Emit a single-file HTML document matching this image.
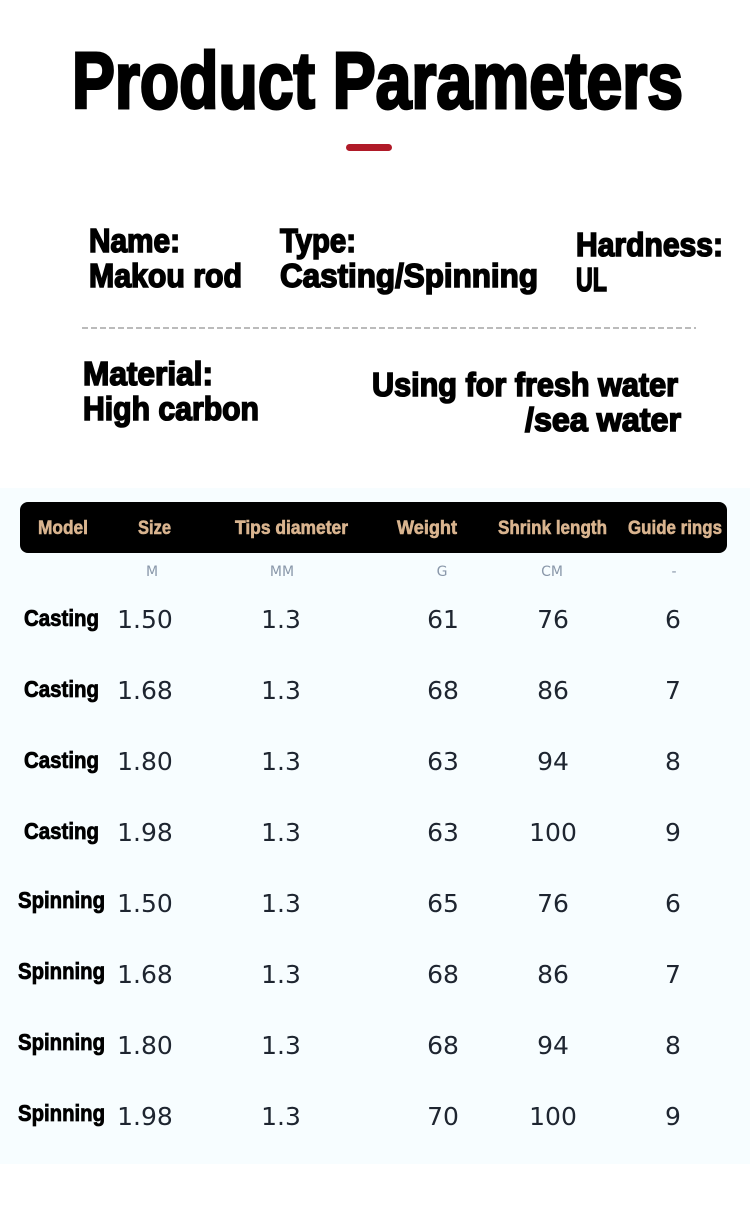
<!DOCTYPE html>
<html><head><meta charset="utf-8"><style>
html,body{margin:0;padding:0;background:#fff;width:750px;height:1222px;overflow:hidden}
svg{display:block}
.b{font-family:"Liberation Sans",sans-serif;font-weight:bold;fill:#000;stroke:#000;stroke-width:1.6px}
.h{font-family:"Liberation Sans",sans-serif;font-weight:bold;fill:#d9b48f;font-size:19px;stroke:#d9b48f;stroke-width:0.6px}
.u{font-family:"DejaVu Sans","Liberation Sans",sans-serif;fill:#8a98aa;font-size:14px}
.n{font-family:"DejaVu Sans","Liberation Sans",sans-serif;fill:#1e2530;font-size:25px}
.m{font-family:"Liberation Sans",sans-serif;font-weight:bold;fill:#000;font-size:23px;stroke:#000;stroke-width:0.8px}
</style></head><body>
<svg width="750" height="1222" viewBox="0 0 750 1222">
<rect x="0" y="488" width="750" height="676" fill="#f7fdff"/>
<text class="b" x="72" y="108" font-size="80" textLength="611" lengthAdjust="spacingAndGlyphs" style="stroke-width:3px">Product Parameters</text>
<rect x="346" y="144" width="46" height="7" rx="3.5" fill="#b01a28"/>
<text class="b" x="89" y="252" font-size="33" textLength="91" lengthAdjust="spacingAndGlyphs">Name:</text>
<text class="b" x="89" y="287" font-size="33" textLength="153" lengthAdjust="spacingAndGlyphs">Makou rod</text>
<text class="b" x="280" y="252" font-size="33" textLength="76" lengthAdjust="spacingAndGlyphs">Type:</text>
<text class="b" x="280" y="287" font-size="33" textLength="258" lengthAdjust="spacingAndGlyphs">Casting/Spinning</text>
<text class="b" x="576" y="256" font-size="33" textLength="147" lengthAdjust="spacingAndGlyphs">Hardness:</text>
<text class="b" x="576" y="291" font-size="33" textLength="31" lengthAdjust="spacingAndGlyphs">UL</text>
<line x1="82" y1="328" x2="696" y2="328" stroke="#777" stroke-width="1" stroke-dasharray="6,3"/>
<text class="b" x="83" y="385" font-size="33" textLength="130" lengthAdjust="spacingAndGlyphs">Material:</text>
<text class="b" x="83" y="420" font-size="33" textLength="176" lengthAdjust="spacingAndGlyphs">High carbon</text>
<text class="b" x="372" y="396" font-size="33" textLength="306" lengthAdjust="spacingAndGlyphs">Using for fresh water</text>
<text class="b" x="525" y="431" font-size="33" textLength="156" lengthAdjust="spacingAndGlyphs">/sea water</text>
<rect x="20" y="502" width="707" height="51" rx="8" fill="#000"/>
<text class="h" x="38" y="534" textLength="50" lengthAdjust="spacingAndGlyphs">Model</text>
<text class="h" x="138" y="534" textLength="33" lengthAdjust="spacingAndGlyphs">Size</text>
<text class="h" x="235" y="534" textLength="113" lengthAdjust="spacingAndGlyphs">Tips diameter</text>
<text class="h" x="397" y="534" textLength="60" lengthAdjust="spacingAndGlyphs">Weight</text>
<text class="h" x="498" y="534" textLength="109" lengthAdjust="spacingAndGlyphs">Shrink length</text>
<text class="h" x="628" y="534" textLength="94" lengthAdjust="spacingAndGlyphs">Guide rings</text>
<g class="u" text-anchor="middle">
<text x="152" y="576">M</text><text x="282" y="576">MM</text><text x="442" y="576">G</text><text x="552" y="576">CM</text><text x="674" y="576">-</text>
</g>
<g>
<text class="m" x="24" y="626" textLength="75" lengthAdjust="spacingAndGlyphs">Casting</text>
<text class="m" x="24" y="697" textLength="75" lengthAdjust="spacingAndGlyphs">Casting</text>
<text class="m" x="24" y="768" textLength="75" lengthAdjust="spacingAndGlyphs">Casting</text>
<text class="m" x="24" y="839" textLength="75" lengthAdjust="spacingAndGlyphs">Casting</text>
<text class="m" x="18" y="908" textLength="87" lengthAdjust="spacingAndGlyphs">Spinning</text>
<text class="m" x="18" y="979" textLength="87" lengthAdjust="spacingAndGlyphs">Spinning</text>
<text class="m" x="18" y="1050" textLength="87" lengthAdjust="spacingAndGlyphs">Spinning</text>
<text class="m" x="18" y="1121" textLength="87" lengthAdjust="spacingAndGlyphs">Spinning</text>
</g>
<g class="n" text-anchor="middle">
<text x="145" y="628">1.50</text><text x="281" y="628">1.3</text><text x="443" y="628">61</text><text x="553" y="628">76</text><text x="673" y="628">6</text>
<text x="145" y="699">1.68</text><text x="281" y="699">1.3</text><text x="443" y="699">68</text><text x="553" y="699">86</text><text x="673" y="699">7</text>
<text x="145" y="770">1.80</text><text x="281" y="770">1.3</text><text x="443" y="770">63</text><text x="553" y="770">94</text><text x="673" y="770">8</text>
<text x="145" y="841">1.98</text><text x="281" y="841">1.3</text><text x="443" y="841">63</text><text x="553" y="841">100</text><text x="673" y="841">9</text>
<text x="145" y="912">1.50</text><text x="281" y="912">1.3</text><text x="443" y="912">65</text><text x="553" y="912">76</text><text x="673" y="912">6</text>
<text x="145" y="983">1.68</text><text x="281" y="983">1.3</text><text x="443" y="983">68</text><text x="553" y="983">86</text><text x="673" y="983">7</text>
<text x="145" y="1054">1.80</text><text x="281" y="1054">1.3</text><text x="443" y="1054">68</text><text x="553" y="1054">94</text><text x="673" y="1054">8</text>
<text x="145" y="1125">1.98</text><text x="281" y="1125">1.3</text><text x="443" y="1125">70</text><text x="553" y="1125">100</text><text x="673" y="1125">9</text>
</g>
</svg>
</body></html>
